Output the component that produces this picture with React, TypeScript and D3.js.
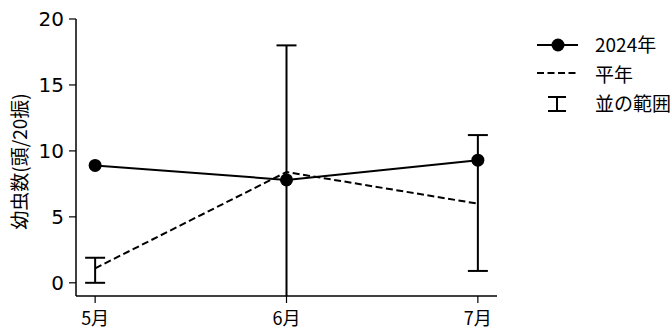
import React from 'react';
import * as d3 from 'd3';

const months = ['5月', '6月', '7月'];
const actual2024 = [8.9, 7.8, 9.3];
const normalYear = [1.1, 8.4, 6.0];
const rangeLow = [0, -1.5, 0.9];
const rangeHigh = [1.9, 18.0, 11.2];
const yTicks = [0, 5, 10, 15, 20];

const W = 672;
const H = 331;
const plot = { left: 76, right: 497, top: 19, bottom: 296 };
const jp = '"Noto Sans CJK JP", "Noto Sans CJK SC", sans-serif';

const App = () => {
  const x = d3.scaleLinear().domain([-0.1, 2.1]).range([plot.left, plot.right]);
  const y = d3.scaleLinear().domain([-1, 20]).range([plot.bottom, plot.top]);

  const line = d3.line<number>()
    .x((d, i) => x(i))
    .y(d => y(d));

  const cap = 10;

  return (
    <svg width={W} height={H} style={{ position: 'absolute', left: 0, top: 0 }}>
      <rect width={W} height={H} fill="#fff" />
      <defs>
        <clipPath id="plotArea">
          <rect x={plot.left} y={plot.top} width={plot.right - plot.left} height={plot.bottom - plot.top} />
        </clipPath>
      </defs>

      {/* axes */}
      <line x1={plot.left} x2={plot.left} y1={plot.top} y2={plot.bottom} stroke="#000" strokeWidth={1.5} />
      <line x1={plot.left} x2={plot.right} y1={plot.bottom} y2={plot.bottom} stroke="#000" strokeWidth={1.5} />

      {yTicks.map(t => (
        <g key={t}>
          <line x1={plot.left - 7} x2={plot.left} y1={y(t)} y2={y(t)} stroke="#000" strokeWidth={1.2} />
          <text x={plot.left - 12} y={y(t)} dy="0.36em" textAnchor="end"
            fontFamily="DejaVu Sans" fontSize={20} fill="#000">{t}</text>
        </g>
      ))}

      {months.map((m, i) => (
        <g key={m}>
          <line x1={x(i)} x2={x(i)} y1={plot.bottom} y2={plot.bottom + 7} stroke="#000" strokeWidth={1.2} />
          <text x={x(i)} y={325} textAnchor="middle"
            fontFamily={jp} fontSize={18} fill="#000">{m}</text>
        </g>
      ))}

      <text transform={`translate(20,161.5) rotate(-90)`} dy="0.36em" textAnchor="middle"
        fontFamily={jp} fontSize={19} fill="#000">幼虫数(頭/20振)</text>

      <g clipPath="url(#plotArea)">
        {/* range error bars */}
        {months.map((m, i) => (
          <g key={m} stroke="#000" strokeWidth={2}>
            <line x1={x(i)} x2={x(i)} y1={y(rangeLow[i])} y2={y(rangeHigh[i])} />
            <line x1={x(i) - cap} x2={x(i) + cap} y1={y(rangeLow[i])} y2={y(rangeLow[i])} />
            <line x1={x(i) - cap} x2={x(i) + cap} y1={y(rangeHigh[i])} y2={y(rangeHigh[i])} />
          </g>
        ))}

        <path d={line(normalYear) ?? ''} fill="none" stroke="#000" strokeWidth={2} strokeDasharray="7,3.5" />
        <path d={line(actual2024) ?? ''} fill="none" stroke="#000" strokeWidth={2} />
        {actual2024.map((v, i) => (
          <circle key={i} cx={x(i)} cy={y(v)} r={6.5} fill="#000" />
        ))}
      </g>

      {/* legend */}
      <g>
        <line x1={537} x2={578} y1={45} y2={45} stroke="#000" strokeWidth={2} />
        <circle cx={558} cy={45} r={6.5} fill="#000" />
        <text x={595} y={45} dy="0.36em" fontFamily={jp} fontSize={19} fill="#000">2024年</text>

        <line x1={537} x2={578} y1={73} y2={73} stroke="#000" strokeWidth={2} strokeDasharray="7,3.5" />
        <text x={595} y={75} dy="0.36em" fontFamily={jp} fontSize={19} fill="#000">平年</text>

        <g stroke="#000" strokeWidth={2}>
          <line x1={557} x2={557} y1={97} y2={111} />
          <line x1={548} x2={566} y1={97} y2={97} />
          <line x1={548} x2={566} y1={111} y2={111} />
        </g>
        <text x={595} y={104} dy="0.36em" fontFamily={jp} fontSize={19} fill="#000">並の範囲</text>
      </g>
    </svg>
  );
};

export default App;
